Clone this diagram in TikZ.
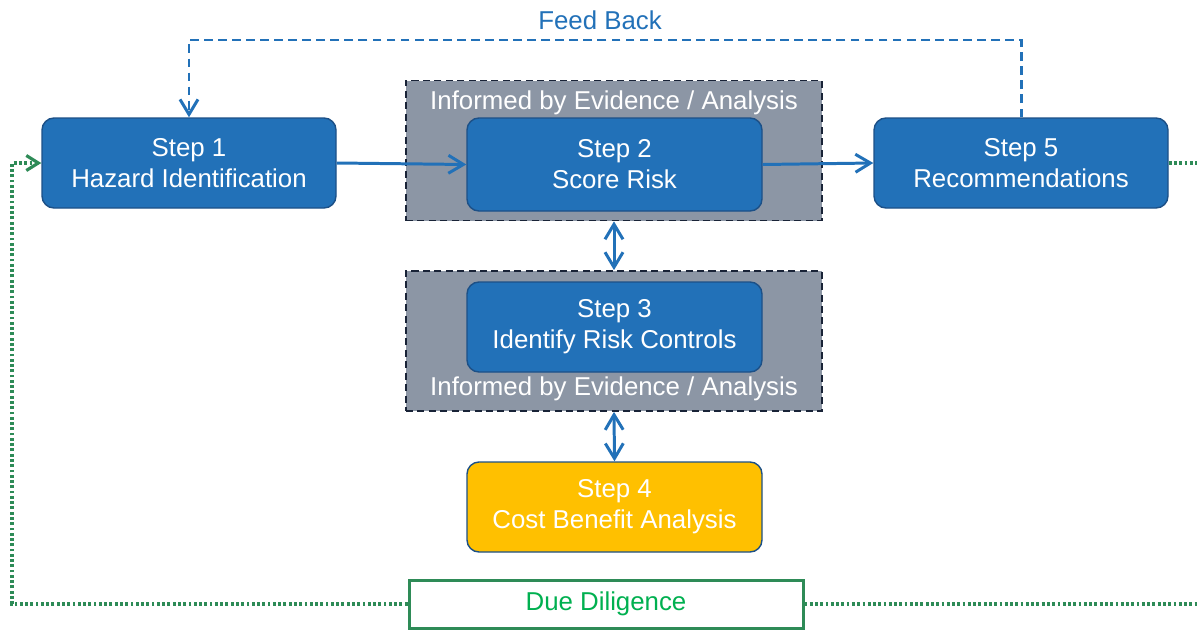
\documentclass[tikz,border=0pt]{standalone}
\usepackage{fontspec}
\setmainfont{Liberation Sans}
\usetikzlibrary{arrows.meta}

\definecolor{stepblue}{RGB}{34,113,184}
\definecolor{stepedge}{RGB}{28,80,135}
\definecolor{framegray}{RGB}{140,150,165}
\definecolor{frameedge}{RGB}{25,35,55}
\definecolor{ddgreen}{RGB}{46,139,87}
\definecolor{ddtext}{RGB}{0,176,80}
\definecolor{costyellow}{RGB}{255,192,0}

\tikzset{
  stepbox/.style={draw=stepedge, line width=0.8pt, fill=stepblue, rounded corners=0.24cm,
    minimum width=5.88cm, minimum height=1.8cm, inner sep=0pt, align=center,
    text=white, font=\fontsize{14.7}{17.6}\selectfont},
  evbox/.style={draw=frameedge, fill=framegray, line width=1pt, dash pattern=on 4pt off 2.5pt,
    minimum width=8.32cm, minimum height=2.8cm, inner sep=0pt},
  evtext/.style={text=white, inner sep=0pt, font=\fontsize{14.7}{17.6}\selectfont},
  link/.style={draw=stepblue, line width=1.7pt},
  dueline/.style={draw=ddgreen, line width=1.8pt, dash pattern=on 1.6pt off 1.4pt},
}

\begin{document}
\begin{tikzpicture}[>={Straight Barb[length=3mm,width=3.6mm]}]
\useasboundingbox (0,0) rectangle (23.94,12.6);

\node[evbox] (ev1) at (12.28,9.59) {}; % upper frame
\node[evbox] (ev2) at (12.28,5.78) {}; % lower frame
\node[evtext] (ev1t) at (12.28,10.54) {Informed by Evidence / Analysis};
\node[evtext] (ev2t) at (12.28,4.82) {Informed by Evidence / Analysis};

\node[stepbox] (s1) at (3.78,9.34) {Step 1\\Hazard Identification}; % left
\node[stepbox, minimum width=5.9cm, minimum height=1.86cm] (s2) at (12.29,9.31) {Step 2\\Score Risk}; % middle top
\node[stepbox, minimum width=5.9cm] (s3) at (12.29,6.06) {Step 3\\Identify Risk Controls}; % middle
\node[stepbox, minimum width=5.9cm, fill=costyellow, draw=stepedge] (s4) at (12.29,2.46) {Step 4\\Cost Benefit Analysis}; % middle low
\node[stepbox] (s5) at (20.42,9.34) {Step 5\\Recommendations}; % right

\node[draw=ddgreen, line width=1.7pt, fill=white, minimum width=7.88cm, minimum height=0.96cm,
  inner sep=0pt, text=ddtext, font=\fontsize{14.7}{17.6}\selectfont] (dd) at (12.12,0.52) {Due Diligence};

\node[text=stepblue, font=\fontsize{14.7}{17.6}\selectfont] (fbt) at (12.0,12.2) {Feed Back};

\draw[link,->] (s1.east) -- (s2.west);
\draw[link,->] (s2.east) -- (s5.west);
\draw[link,<->] (ev1.south) -- (ev2.north);
\draw[link,<->] (ev2.south) -- (s4.north);

% feed back loop
\coordinate (fb) at (12.0,11.8);
\draw[link,->,dash pattern=on 5pt off 3pt] (s5.north) |- (fb) -| (s1.north);

% due diligence line
\coordinate (lc) at (0.24,0.52);
\coordinate (rc) at (23.94,0.52);
\coordinate (re) at (23.94,9.34);
\draw[dueline,->,>={Straight Barb[length=2.4mm,width=3mm]}] (dd.west) -- (lc) |- (s1.west);
\draw[dueline] (dd.east) -- (rc);
\draw[dueline] (s5.east) -- (re);

\end{tikzpicture}
\end{document}
